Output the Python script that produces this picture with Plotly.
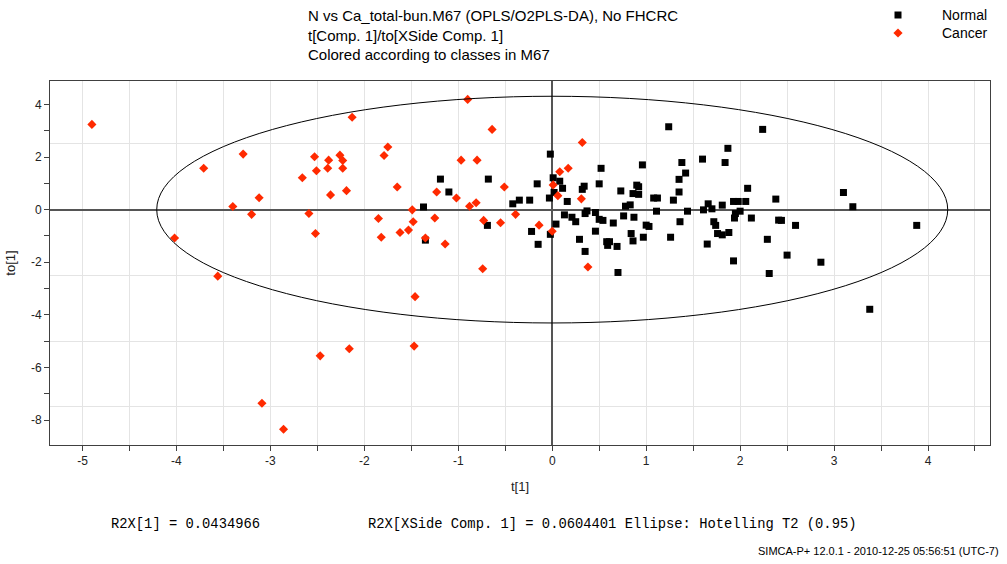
import plotly.graph_objects as go

# Scores, class "Normal": t[1] and to[1]
normal_t = [-1.19, -1.10, -1.37, -1.35, -0.68, -0.69, -0.42, -0.35, -0.24, -0.16,
            -0.22, -0.15, 1.24, 2.24, -0.02, 1.87, 1.60, 1.84, 1.38, 0.96,
            0.52, 1.42, 1.35, 0.01, 0.08, 0.50, 0.11, 0.34, 0.32, 0.90,
            0.92, 2.08, 0.73, 0.86, 0.92, 1.35, 0.02, -0.03, 0.16, 1.08,
            1.12, 1.29, 1.66, 1.81, 1.93, 1.98, 2.06, 2.38, 0.78, 0.83,
            0.37, 0.35, 0.46, 0.13, 0.21, 0.25, 0.50, 0.54, 0.76, 0.87,
            1.11, 1.44, 1.61, 1.70, 2.00, 1.95, 1.94, 2.12, 2.41, 0.04,
            0.65, 1.00, 1.03, 1.36, 1.72, 1.74, 1.76, 1.81, 1.88, -0.02,
            0.46, 0.84, 0.97, 1.26, 0.29, 0.58, 0.61, 0.59, 0.69, 0.86,
            1.65, 2.29, 0.35, 1.93, 3.10, 3.20, 2.44, 2.59, 3.88, 2.50,
            2.86, 2.31, 3.38, 0.70]
normal_to = [1.16, 0.67, 0.10, -1.16, 1.16, -0.60, 0.22, 0.36, 0.36, 0.98,
             -0.83, -1.32, 3.15, 3.05, 2.11, 2.33, 1.92, 1.79, 1.79, 1.70,
             1.57, 1.39, 1.15, 1.21, 1.08, 0.98, 0.81, 0.89, 0.77, 0.93,
             0.87, 0.81, 0.71, 0.61, 0.58, 0.67, 0.65, 0.44, 0.31, 0.44,
             0.44, 0.36, 0.22, 0.17, 0.31, 0.31, 0.31, 0.40, 0.13, 0.18,
             -0.05, -0.15, -0.11, -0.20, -0.29, -0.46, -0.37, -0.41, -0.24, -0.29,
             -0.06, -0.06, -0.01, 0.03, -0.06, -0.15, -0.32, -0.32, -0.40, -0.55,
             -0.51, -0.59, -0.64, -0.46, -0.46, -0.60, -0.91, -0.96, -0.87, -0.94,
             -0.82, -0.91, -1.05, -1.05, -1.13, -1.22, -1.22, -1.36, -1.40, -1.19,
             -1.31, -1.13, -1.59, -1.95, 0.65, 0.11, -0.41, -0.60, -0.60, -1.73,
             -2.00, -2.43, -3.79, -2.39]

# Scores, class "Cancer": t[1] and to[1]
cancer_t = [-4.90, -3.29, -3.71, -3.12, -3.40, -3.20, -4.02, -2.66, -2.13, -0.90,
            -0.64, -2.53, -2.38, -2.26, -2.23, -2.51, -2.39, -2.23, -2.36, -2.19,
            -1.75, -1.79, -1.65, -2.59, -2.52, -1.85, -1.82, -1.62, -1.53, -1.49,
            -1.48, -1.35, -1.25, -1.23, -1.14, -1.02, -0.97, -0.80, -0.88, -0.81,
            -0.73, -0.55, -0.51, -0.39, -0.74, -0.14, 0.32, 0.08, 0.17, 0.01,
            0.06, 0.31, 0.00, 0.38, -3.56, -1.46, -1.47, -2.16, -2.47, -3.09,
            -2.86]
cancer_to = [3.24, 2.11, 1.57, 0.45, 0.12, -0.18, -1.08, 1.21, 3.51, 4.19,
             3.05, 2.01, 1.88, 2.07, 1.87, 1.48, 1.57, 1.57, 0.56, 0.72,
             2.38, 2.06, 0.86, -0.15, -0.91, -0.34, -1.05, -0.87, -0.78, -0.01,
             -0.46, -1.08, -0.32, 0.67, -1.31, 0.44, 1.88, 1.88, 0.13, 0.26,
             -0.41, -0.50, 0.86, -0.18, -2.25, -0.59, 2.55, 1.44, 1.57, 0.94,
             0.53, 0.41, -0.82, -2.18, -2.53, -3.31, -5.19, -5.29, -5.56, -7.36,
             -8.35]

# Hotelling T2 (0.95) ellipse semi-axes
ellipse_a = 4.21
ellipse_b = 4.31

x_ticks = [-5, -4, -3, -2, -1, 0, 1, 2, 3, 4]
y_ticks = [4, 2, 0, -2, -4, -6, -8]
x_range = [-5.346, 4.66]
y_range = [-8.95, 4.89]

GRID = "#e4e4e4"
FRAME = "#404040"
BLACK = "#000000"
RED = "#ff2a00"

# plot area in pixels (figure is 1007 x 564)
L, R, T, B = 50, 990, 81, 445
W, H = R - L, B - T


def px(x):
    return (x - L) / W


def py(y):
    return (B - y) / H


fig = go.Figure()
fig.add_trace(go.Scatter(
    x=normal_t, y=normal_to, mode="markers", name="Normal", showlegend=False,
    marker=dict(symbol="square", size=7, color=BLACK, line=dict(width=0)),
))
fig.add_trace(go.Scatter(
    x=cancer_t, y=cancer_to, mode="markers", name="Cancer", showlegend=False,
    marker=dict(symbol="diamond", size=7, color=RED, line=dict(width=0)),
))
# helper trace so the secondary grid axis is drawn
fig.add_trace(go.Scatter(x=[None], y=[None], yaxis="y2", showlegend=False,
                         hoverinfo="skip"))

fig.add_shape(type="circle", xref="x", yref="y",
              x0=-ellipse_a, x1=ellipse_a, y0=-ellipse_b, y1=ellipse_b,
              line=dict(color=BLACK, width=1))

tick_font = dict(family="Liberation Sans, Arial, sans-serif", size=12, color="#222222")

fig.update_layout(
    width=1007, height=564,
    margin=dict(l=L, r=1007 - R, t=T, b=564 - B, autoexpand=False),
    paper_bgcolor="white", plot_bgcolor="white",
    font=dict(family="Liberation Sans, Arial, sans-serif", size=13, color="#222222"),
    xaxis=dict(
        range=x_range, tickmode="array", tickvals=x_ticks,
        ticktext=[str(v) for v in x_ticks],
        ticks="outside", ticklen=5, tickcolor=FRAME, tickfont=tick_font,
        showgrid=True, gridcolor=GRID, gridwidth=1,
        minor=dict(tickmode="linear", tick0=0, dtick=0.5, ticks="outside",
                   ticklen=5, tickcolor=FRAME, showgrid=True, gridcolor=GRID),
        zeroline=True, zerolinecolor="#555555", zerolinewidth=2,
        showline=True, linecolor=FRAME, linewidth=1, mirror=True,
        title=dict(text="t[1]", font=dict(size=13), standoff=14),
    ),
    yaxis=dict(
        range=y_range, tickmode="array", tickvals=y_ticks,
        ticktext=[str(v) for v in y_ticks],
        ticks="outside", ticklen=5, tickcolor=FRAME, tickfont=tick_font,
        showgrid=False,
        minor=dict(tickmode="linear", tick0=0, dtick=1, ticks="outside",
                   ticklen=5, tickcolor=FRAME, showgrid=False),
        zeroline=True, zerolinecolor="#555555", zerolinewidth=2,
        showline=True, linecolor=FRAME, linewidth=1, mirror=True,
        title=dict(text="to[1]", font=dict(size=13), standoff=12),
    ),
    yaxis2=dict(
        range=y_range, overlaying="y", side="right", tickmode="linear",
        tick0=0, dtick=2.5, showgrid=True, gridcolor=GRID, gridwidth=1,
        showticklabels=False, ticks="", zeroline=False, showline=False,
    ),
    showlegend=False,
)

# class key, top right
legend_rows = [("Normal", 15), ("Cancer", 33)]
sq = 3.5
fig.add_shape(type="rect", xref="paper", yref="paper",
              x0=px(898 - sq), x1=px(898 + sq), y0=py(15 + sq), y1=py(15 - sq),
              fillcolor=BLACK, line=dict(width=0))
dm = 4.6
cx, cy = 898, 33
fig.add_shape(type="path", xref="paper", yref="paper",
              path=(f"M {px(cx)} {py(cy - dm)} L {px(cx + dm)} {py(cy)} "
                    f"L {px(cx)} {py(cy + dm)} L {px(cx - dm)} {py(cy)} Z"),
              fillcolor=RED, line=dict(width=0))
for label, yy in legend_rows:
    fig.add_annotation(text=label, xref="paper", yref="paper", x=px(940), y=py(yy),
                       xanchor="left", yanchor="middle", showarrow=False,
                       font=dict(family="Liberation Sans, Arial, sans-serif",
                                 size=14, color=BLACK))

title_lines = [
    "N vs Ca_total-bun.M67 (OPLS/O2PLS-DA), No FHCRC",
    "t[Comp. 1]/to[XSide Comp. 1]",
    "Colored according to classes in M67",
]
for i, line in enumerate(title_lines):
    fig.add_annotation(
        text=line, xref="paper", yref="paper",
        x=px(306), y=py(16 + 19 * i),
        xanchor="left", yanchor="middle", showarrow=False,
        font=dict(family="Liberation Sans, Arial, sans-serif", size=15, color=BLACK),
    )

mono = dict(family="Liberation Mono, Courier New, monospace", size=13.8, color=BLACK)
fig.add_annotation(text="R2X[1] = 0.0434966", xref="paper", yref="paper",
                   x=px(109), y=py(524),
                   xanchor="left", yanchor="middle", showarrow=False, font=mono)
fig.add_annotation(text="R2X[XSide Comp. 1] = 0.0604401 Ellipse: Hotelling T2 (0.95)",
                   xref="paper", yref="paper", x=px(366), y=py(524),
                   xanchor="left", yanchor="middle", showarrow=False, font=mono)
fig.add_annotation(text="SIMCA-P+ 12.0.1 - 2010-12-25 05:56:51 (UTC-7)",
                   xref="paper", yref="paper", x=px(1001), y=py(551),
                   xanchor="right", yanchor="middle", showarrow=False,
                   font=dict(family="Liberation Sans, Arial, sans-serif", size=11, color=BLACK))

fig.write_html("out.html")
